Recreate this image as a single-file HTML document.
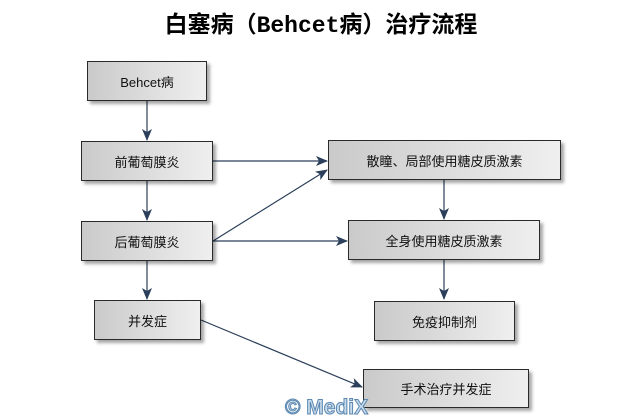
<!DOCTYPE html>
<html><head><meta charset="utf-8"><style>
body{margin:0;width:642px;height:419px;background:#fff;position:relative;overflow:hidden;font-family:"Liberation Sans","Noto Sans CJK SC",sans-serif}
.t{position:absolute;left:0;width:642px;top:5px;text-align:center;font-size:23px;font-weight:bold;color:#000;font-family:"Liberation Mono","Noto Sans CJK SC",sans-serif}
.b{position:absolute;box-sizing:border-box;border:1px solid #2a2a2a;background:linear-gradient(90deg,#cacaca,#efefef);box-shadow:3px 3px 3px rgba(0,0,0,0.35);display:flex;align-items:center;justify-content:center;font-size:13px;color:#111}
.w{position:absolute;left:285px;top:396px;font-size:21px;font-weight:bold;color:#c8dcec;-webkit-text-stroke:1px #5a86b0;font-family:"Liberation Sans",sans-serif}
</style></head><body>
<div class="t">白塞病（Behcet病）治疗流程</div>
<svg width="642" height="419" style="position:absolute;left:0;top:0">
<defs><marker id="a" markerWidth="12" markerHeight="10" refX="11" refY="5" orient="auto" markerUnits="userSpaceOnUse"><path d="M0,0 L12,5 L0,10 L3,5 Z" fill="#2b3f5a"/></marker></defs>
<g stroke="#2b3f5a" stroke-width="1.2" fill="none" marker-end="url(#a)">
<line x1="147" y1="101" x2="147" y2="140"/>
<line x1="147" y1="181" x2="147" y2="220"/>
<line x1="147" y1="261" x2="147" y2="299"/>
<line x1="213" y1="161" x2="327" y2="161"/>
<line x1="213" y1="241" x2="327" y2="170"/>
<line x1="213" y1="241" x2="347" y2="241"/>
<line x1="444" y1="180" x2="444" y2="219"/>
<line x1="444" y1="260" x2="444" y2="299"/>
<line x1="201" y1="320" x2="362" y2="387"/>
</g></svg>
<div class="b" style="left:87px;top:61px;width:120px;height:40px">Behcet病</div>
<div class="b" style="left:81px;top:141px;width:132px;height:40px">前葡萄膜炎</div>
<div class="b" style="left:81px;top:221px;width:132px;height:40px">后葡萄膜炎</div>
<div class="b" style="left:94px;top:300px;width:107px;height:40px">并发症</div>
<div class="b" style="left:328px;top:140px;width:233px;height:40px">散瞳、局部使用糖皮质激素</div>
<div class="b" style="left:348px;top:220px;width:192px;height:40px">全身使用糖皮质激素</div>
<div class="b" style="left:374px;top:301px;width:141px;height:40px">免疫抑制剂</div>
<div class="b" style="left:363px;top:369px;width:166px;height:39px">手术治疗并发症</div>
<div class="w">© MediX</div>
</body></html>
